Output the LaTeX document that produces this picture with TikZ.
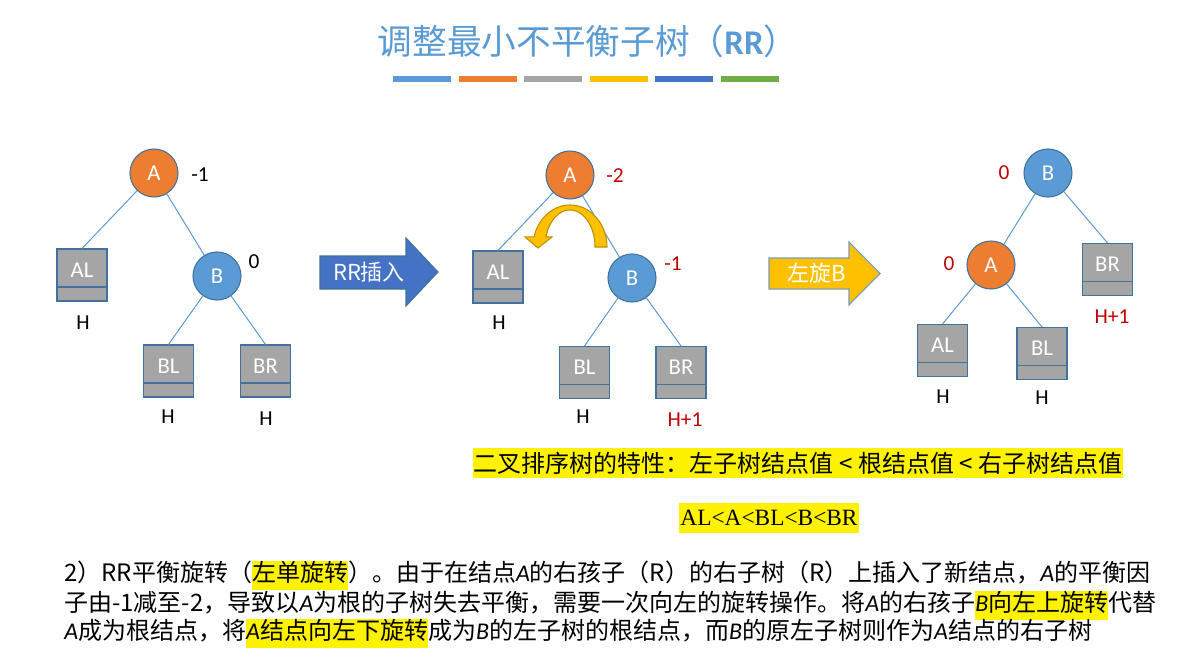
\documentclass[tikz,border=0pt]{standalone}
\usepackage{fontspec}
\setmainfont{Carlito}
\newfontfamily\cjk{Noto Sans CJK SC}
\newfontfamily\serifen{Liberation Serif}
\usetikzlibrary{positioning}
\definecolor{colBlue}{HTML}{5B9BD5}
\definecolor{colOrange}{HTML}{ED7D31}
\definecolor{colGray}{HTML}{A5A5A5}
\definecolor{colGold}{HTML}{FFC000}
\definecolor{colDark}{HTML}{4472C4}
\definecolor{colGreen}{HTML}{70AD47}
\definecolor{colEdge}{HTML}{41719C}
\definecolor{colRed}{HTML}{C00000}
\definecolor{colDeepGold}{HTML}{BF9000}
\newcommand{\va}[1]{{\normalfont\itshape #1}}
\newcommand{\yhl}[1]{{\setlength{\fboxsep}{0pt}\colorbox{yellow}{\strut #1}}}

\begin{document}
\begin{tikzpicture}[x=0.75pt, y=-0.75pt,
    every node/.style={font=\fontsize{17}{20}\selectfont},
    nodeA/.style={circle, fill=colOrange, draw=colEdge, line width=0.8pt, minimum size=36pt, inner sep=0pt, text=white},
    nodeB/.style={nodeA, fill=colBlue},
    subtree/.style={rectangle, fill=colGray, draw=colEdge, line width=0.8pt, minimum width=37.5pt, minimum height=39pt,
        inner sep=0pt, text=white, text height=12pt, text depth=8.5pt,
        path picture={\draw[colEdge, line width=0.8pt] ([yshift=10.5pt]path picture bounding box.south west) -- ([yshift=10.5pt]path picture bounding box.south east);}},
    bf/.style={font=\fontsize{16}{19}\selectfont},
    bfred/.style={bf, text=colRed},
    edge/.style={colBlue, line width=0.75pt},
    body/.style={anchor=base west, inner sep=0pt, font=\cjk\fontsize{18}{21.6}\selectfont}
]
    \useasboundingbox[fill=white] (0,0) rectangle (1197,660);

    % title
    \node[text=colBlue, font=\cjk\fontsize{26}{31}\selectfont] (title) at (588,41) {调整最小不平衡子树（{\normalfont\bfseries RR}）};
    \foreach \c [count=\i from 0] in {colBlue,colOrange,colGray,colGold,colDark,colGreen}
        \fill[\c] ({393+\i*65.5},76) rectangle ++(58,6);

    % tree before insertion
    \node[nodeA] (a1) at (154,173) {A};
    \node[nodeB] (b1) at (217,276) {B};
    \node[subtree] (al1) at (82,275) {AL};
    \node[subtree] (bl1) at (168.5,371) {BL};
    \node[subtree] (br1) at (265.5,371) {BR};
    \draw[edge] (a1) -- (al1.north);
    \draw[edge] (a1) -- (b1);
    \draw[edge] (b1) -- (bl1.north);
    \draw[edge] (b1) -- (br1.north);
    \node[bf] (fa1) at (200,175) {-1};
    \node[bf] (fb1) at (254,262) {0};
    \node[bf] (hal1) at (83,323) {H};
    \node[bf] (hbl1) at (168,417) {H};
    \node[bf] (hbr1) at (266,419) {H};

    % RR insertion
    \filldraw[fill=colDark, draw=colEdge, line width=0.8pt] (320,256) -- (406,256) -- (406,238) -- (438,272) -- (406,306) -- (406,289) -- (320,289) -- cycle;
    \node[text=white, font=\cjk\fontsize{16.5}{20}\selectfont] (rr) at (369,272) {RR插入};

    % tree after insertion
    \node[nodeA] (a2) at (570,175) {A};
    \node[nodeB] (b2) at (632,278) {B};
    \node[subtree] (al2) at (498,277) {AL};
    \node[subtree] (bl2) at (584.5,372.5) {BL};
    \node[subtree] (br2) at (681,372.5) {BR};
    \draw[edge] (a2) -- (al2.north);
    \draw[edge] (a2) -- (b2);
    \draw[edge] (b2) -- (bl2.north);
    \draw[edge] (b2) -- (br2.north);
    \node[bfred] (fa2) at (615,176) {-2};
    \node[bfred] (fb2) at (673,264) {-1};
    \node[bf] (hal2) at (499,323) {H};
    \node[bf] (hbl2) at (583,417) {H};
    \node[bfred] (hbr2) at (685,420) {H+1};
    % turning arrow
    \filldraw[fill=colGold, draw=colDeepGold, line width=0.8pt]
        plot[domain=0:166, samples=40] ({570+37*cos(\x)},{247-42*sin(\x)})
        -- (525,237) -- (538,248) -- (552,237)
        -- plot[domain=164:0, samples=40] ({570+25*cos(\x)},{247-37*sin(\x)}) -- cycle;

    % left rotation
    \filldraw[fill=colGold, draw=colEdge!70, line width=0.8pt] (769,258) -- (849,258) -- (849,242) -- (880,273.5) -- (849,305) -- (849,289) -- (769,289) -- cycle;
    \node[text=white, font=\cjk\fontsize{16.5}{20}\selectfont] (rot) at (817,273) {左旋B};

    % tree after rotation
    \node[nodeB] (b3) at (1048,173) {B};
    \node[nodeA] (a3) at (991,265) {A};
    \node[subtree] (br3) at (1107.5,269.5) {BR};
    \node[subtree] (al3) at (942.5,350.5) {AL};
    \node[subtree] (bl3) at (1042,353.5) {BL};
    \draw[edge] (b3) -- (a3);
    \draw[edge] (b3) -- (br3.north);
    \draw[edge] (a3) -- (al3.north);
    \draw[edge] (a3) -- (bl3.north);
    \node[bfred] (fb3) at (1004,173) {0};
    \node[bfred] (fa3) at (949,264) {0};
    \node[bfred] (hbr3) at (1112,317) {H+1};
    \node[bf] (hal3) at (943,397) {H};
    \node[bf] (hbl3) at (1042,398) {H};

    % ordering rule
    \node[fill=yellow, inner xsep=1pt, inner ysep=0pt, minimum height=22.5pt, font=\cjk\fontsize{18}{21.6}\selectfont] (rule) at (798,463) {二叉排序树的特性：左子树结点值 < 根结点值 < 右子树结点值};
    \node[fill=yellow, inner xsep=1pt, inner ysep=0pt, minimum height=22.5pt, font=\serifen\fontsize{17.5}{21}\selectfont] (order) at (769,518) {AL<A<BL<B<BR};

    % explanation
    \node[body] (line1) at (64,581) {2）RR平衡旋转（\yhl{左单旋转}）。由于在结点\va{A}的右孩子（R）的右子树（R）上插入了新结点，\va{A}的平衡因};
    \node[body] (line2) at (64,611) {子由-1减至-2，导致以\va{A}为根的子树失去平衡，需要一次向左的旋转操作。将\va{A}的右孩子\yhl{\va{B}向左上旋转}代替};
    \node[body] (line3) at (64,639) {\va{A}成为根结点，将\yhl{\va{A}结点向左下旋转}成为\va{B}的左子树的根结点，而\va{B}的原左子树则作为\va{A}结点的右子树};
\end{tikzpicture}
\end{document}
